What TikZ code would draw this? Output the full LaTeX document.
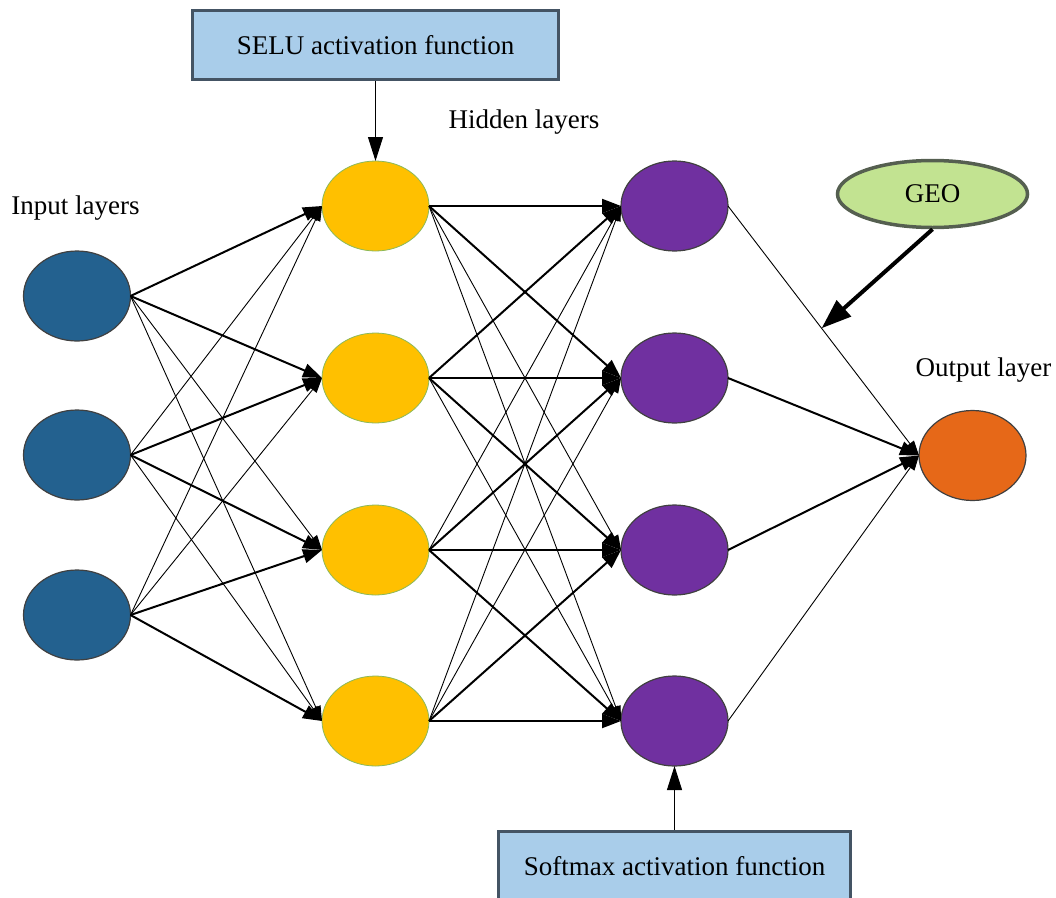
\documentclass[tikz,border=0pt]{standalone}
\usepackage{fontspec}
\setmainfont{Liberation Serif}
\usetikzlibrary{arrows.meta,shapes.geometric,calc}
\definecolor{inblue}{RGB}{35,97,143}
\definecolor{hyellow}{RGB}{255,192,0}
\definecolor{hpurple}{RGB}{112,48,160}
\definecolor{outorange}{RGB}{230,104,24}
\definecolor{boxblue}{RGB}{169,205,234}
\definecolor{boxedge}{RGB}{68,84,100}
\definecolor{geogreen}{RGB}{194,227,145}
\definecolor{geoedge}{RGB}{85,95,80}
\definecolor{nodeedge}{RGB}{64,64,64}
\definecolor{yedge}{RGB}{140,185,90}
\tikzset{
 neuron/.style={ellipse, minimum width=107pt, minimum height=90pt, inner sep=0pt, outer sep=0pt, line width=1.2pt},
 inn/.style={neuron, fill=inblue, draw=nodeedge},
 hid/.style={neuron, fill=hyellow, draw=yedge, line width=0.8pt},
 hidb/.style={neuron, fill=hpurple, draw=nodeedge},
 outn/.style={neuron, fill=outorange, draw=nodeedge},
 actbox/.style={rectangle, fill=boxblue, draw=boxedge, line width=3.5pt, minimum width=366pt, minimum height=69pt, inner sep=0pt, font=\fontsize{27}{31}\selectfont},
 geonode/.style={ellipse, fill=geogreen, draw=geoedge, line width=3.5pt, minimum width=190pt, minimum height=67pt, inner sep=0pt, font=\fontsize{27}{31}\selectfont},
 lbl/.style={font=\fontsize{27}{31}\selectfont, inner sep=0pt, anchor=base},
 strong/.style={line width=2pt, -{Triangle[length=19pt,width=14pt]}},
 weak/.style={line width=0.9pt, -{Triangle[length=15pt,width=10pt]}},
 feed/.style={line width=1pt, -{Triangle[length=24pt,width=15pt]}},
 geoarrow/.style={line width=4pt, -{Triangle[length=30pt,width=21pt]}},
}
\begin{document}
\begin{tikzpicture}[x=1pt,y=-1pt]
\useasboundingbox (0,0) rectangle (1056,897);
% boxes and labels
\node[actbox] (selu) at (375.5,45) {SELU activation function};
\node[actbox, minimum width=352pt] (soft) at (674.5,866) {Softmax activation function};
\node[geonode] (geo) at (932.5,194) {GEO};
\node[lbl] (linput) at (75.5,214) {Input layers};
\node[lbl] (lhidden) at (524,128) {Hidden layers};
\node[lbl] (loutput) at (983.5,376) {Output layer};
% neurons
\node[inn] (I1) at (77,296) {};
\node[inn] (I2) at (77,455) {};
\node[inn] (I3) at (77,615) {};
\node[hid] (H1) at (375.5,206) {};
\node[hid] (H2) at (375.5,378) {};
\node[hid] (H3) at (375.5,550) {};
\node[hid] (H4) at (375.5,721) {};
\node[hidb] (P1) at (674.5,206) {};
\node[hidb] (P2) at (674.5,378) {};
\node[hidb] (P3) at (674.5,550) {};
\node[hidb] (P4) at (674.5,721) {};
\node[outn] (O) at (972.5,455.5) {};
% input -> hidden 1
\foreach \a/\b in {I1/H1,I1/H2,I2/H2,I2/H3,I3/H3,I3/H4}
  \draw[strong] (\a.east) -- (\b.west);
\foreach \a/\b in {I1/H3,I1/H4,I2/H1,I2/H4,I3/H1,I3/H2}
  \draw[weak] (\a.east) -- (\b.west);
% hidden 1 -> hidden 2
\foreach \a/\b in {H1/P1,H1/P2,H2/P1,H2/P2,H2/P3,H3/P2,H3/P3,H3/P4,H4/P3,H4/P4}
  \draw[strong] (\a.east) -- (\b.west);
\foreach \a/\b in {H1/P3,H1/P4,H2/P4,H3/P1,H4/P1,H4/P2}
  \draw[weak] (\a.east) -- (\b.west);
% hidden 2 -> output
\foreach \a in {P2,P3}
  \draw[strong] (\a.east) -- (O.west);
\foreach \a in {P1,P4}
  \draw[weak] (\a.east) -- (O.west);
% activation arrows
\draw[feed] (selu.south) -- (H1.north);
\draw[feed] (soft.north) -- (P4.south);
\coordinate (g) at ($(P1.east)!0.49!(O.west)$);
\draw[geoarrow] (geo.south) -- (g);
\end{tikzpicture}
\end{document}
